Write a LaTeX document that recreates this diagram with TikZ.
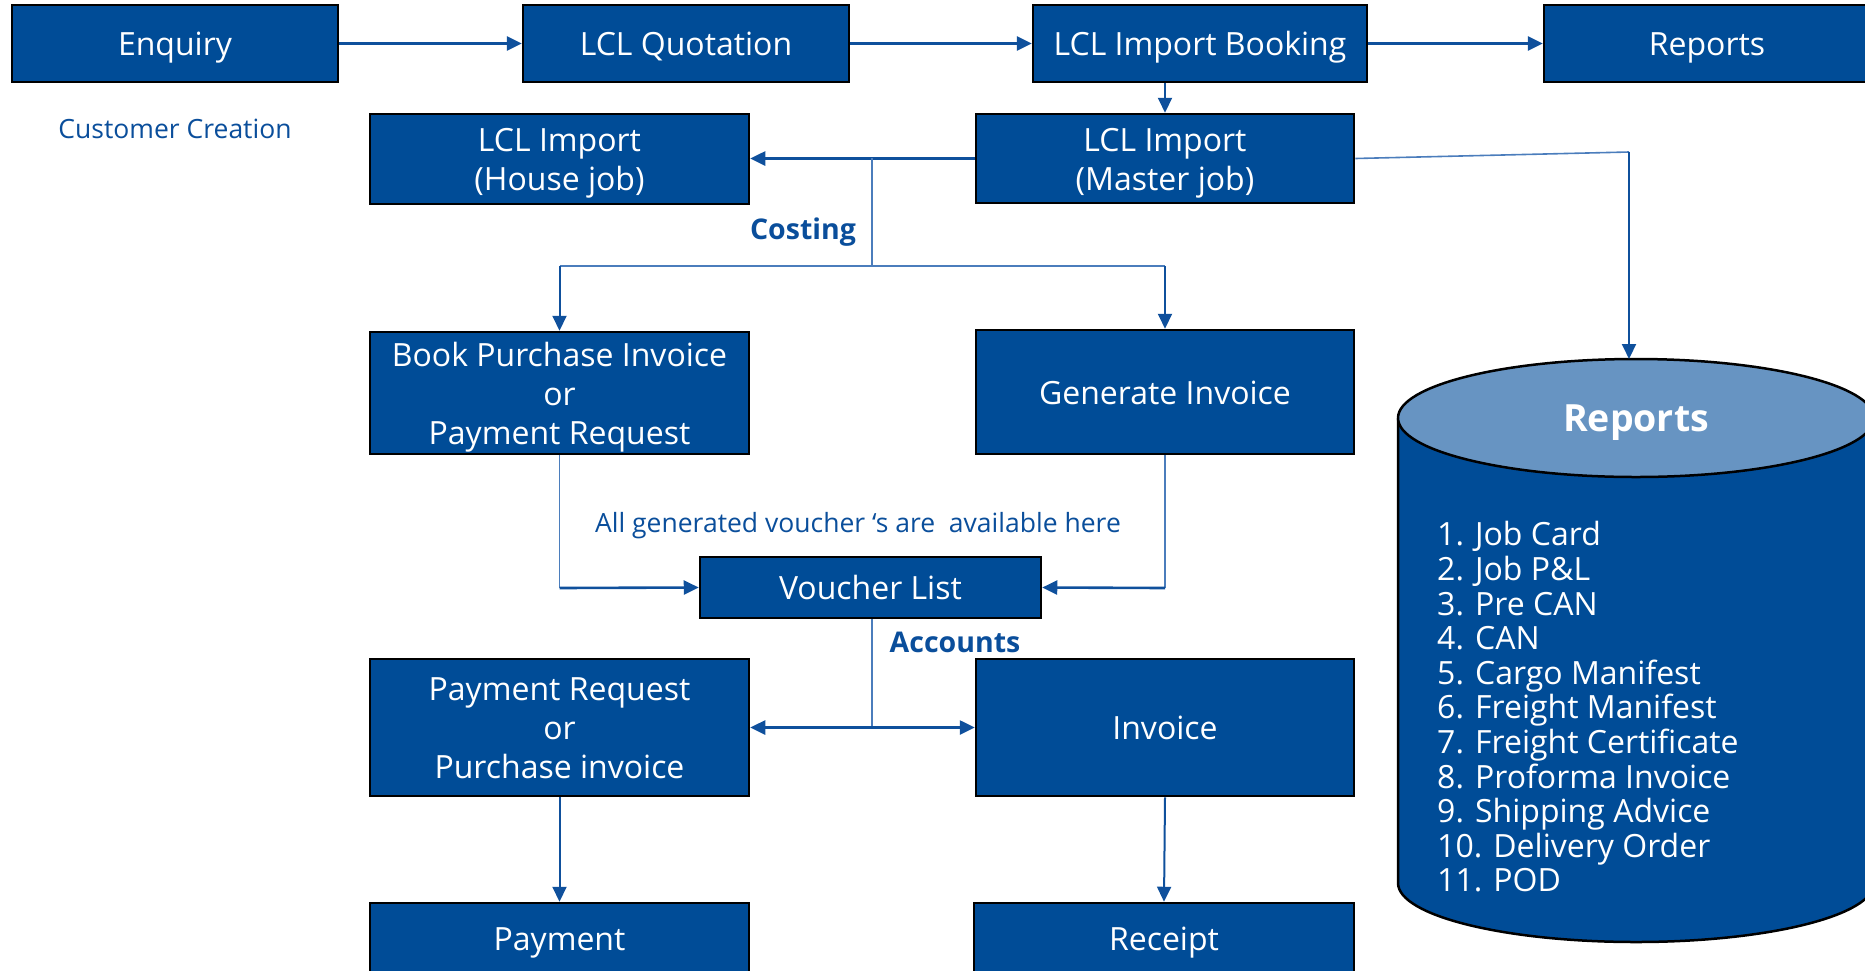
\documentclass[tikz,border=0pt]{standalone}
\usepackage{fontspec}
\setmainfont{Open Sans}
\usetikzlibrary{arrows.meta,calc}
\definecolor{boxblue}{RGB}{0,76,151}
\definecolor{toplight}{RGB}{103,148,194}
\definecolor{linec}{RGB}{15,80,156}
\definecolor{thinc}{RGB}{75,125,188}
\definecolor{txtblue}{RGB}{10,78,155}
\newcommand\sttop{\rule{0pt}{1.069em}}
\newcommand\stbot{\rule[-0.293em]{0pt}{0pt}}
\begin{document}
\begin{tikzpicture}[x=1pt,y=-1pt,
  pp/.style={execute at begin node={\sttop}, execute at end node={\stbot}},
  boxbase/.style={draw=black,line width=2.5pt,fill=boxblue,text=white,align=center,inner sep=0pt,font=\fontsize{32}{39}\selectfont},
  box/.style={boxbase,pp},
  boxm/.style={boxbase},
  conn/.style={draw=linec,line width=2.6pt,-{Triangle[length=15pt,width=14pt]}},
  connm/.style={draw=linec,line width=2pt,-{Triangle[length=15pt,width=14pt]}},
  thinl/.style={draw=thinc,line width=1.6pt},
  lbl/.style={text=txtblue,inner sep=0pt,font=\fontsize{26.5}{30}\selectfont,pp},
  blbl/.style={text=txtblue,inner sep=0pt,font=\bfseries\fontsize{28.5}{30}\selectfont,pp}]
\useasboundingbox (0,0) rectangle (1865,970);

% top row
\node[box,minimum width=326pt,minimum height=77pt] (enq) at (175,43.5) {Enquiry};
\node[box,minimum width=326pt,minimum height=77pt] (quot) at (686,43.5) {LCL Quotation};
\node[box,minimum width=334pt,minimum height=77pt] (book) at (1200,43.5) {LCL Import Booking};
\node[box,minimum width=326pt,minimum height=77pt] (rep) at (1707,43.5) {Reports};

\node[lbl] (cust) at (175,128) {Customer Creation};

% jobs
\node[boxm,minimum width=379pt,minimum height=90pt] (house) at (559.5,159) {\sttop LCL Import\\(House job)\stbot};
\node[boxm,minimum width=378pt,minimum height=89pt] (master) at (1165,158.5) {\sttop LCL Import\\(Master job)\stbot};

\node[blbl] (cost) at (803,228) {Costing};

\node[boxm,minimum width=379pt,minimum height=122pt] (bpi) at (559.5,393) {\sttop Book Purchase Invoice\\or\\Payment Request\stbot};
\node[box,minimum width=378pt,minimum height=124pt] (gen) at (1165,392) {Generate Invoice};

\node[lbl] (avail) at (858,522) {All generated voucher ‘s are\ \ available here};

\node[box,minimum width=341pt,minimum height=61pt] (vl) at (870.5,587.5) {Voucher List};

\node[blbl] (acc) at (955,641) {Accounts};

\node[boxm,minimum width=379pt,minimum height=137pt] (pr) at (559.5,727.5) {\sttop Payment Request\\or\\Purchase invoice\stbot};
\node[box,minimum width=378pt,minimum height=137pt] (inv) at (1165,727.5) {Invoice};

\node[box,minimum width=379pt,minimum height=70pt] (pay) at (559.5,938) {Payment};
\node[box,minimum width=380pt,minimum height=70pt] (rec) at (1164,938) {Receipt};

% cylinder
\fill[boxblue] (1398,418) -- (1398,883) .. controls (1398,915.6) and (1504.6,942) .. (1636,942) .. controls (1767.4,942) and (1874,915.6) .. (1874,883) -- (1874,418) -- cycle;
\draw[black,line width=2.5pt] (1398,418) -- (1398,883) .. controls (1398,915.6) and (1504.6,942) .. (1636,942) .. controls (1767.4,942) and (1874,915.6) .. (1874,883) -- (1874,418);
\draw[black,line width=2.5pt,fill=toplight] (1636,418) ellipse [x radius=238, y radius=59];
\node[text=white,inner sep=0pt,font=\bfseries\fontsize{37.5}{40}\selectfont,pp] (cyllabel) at (1636,417) {Reports};
\node[anchor=west,align=left,text=white,inner sep=0pt,font=\fontsize{32}{34.6}\selectfont] (list) at (1437,707)
 {1. Job Card\\2. Job P\&L\\3. Pre CAN\\4. CAN\\5. Cargo Manifest\\6. Freight Manifest\\7. Freight Certificate\\8. Proforma Invoice\\9. Shipping Advice\\10. Delivery Order\\11. POD};
\coordinate (cyltop) at (1629,359);

% connectors top row
\draw[conn] (enq.east) -- (quot.west);
\draw[conn] (quot.east) -- (book.west);
\draw[conn] (book.east) -- (rep.west);
\draw[connm] (master.north |- book.south) -- (master.north);
\draw[conn] (master.west) -- (house.east |- master.west);

% costing branch
\coordinate (cA) at (872,158);
\coordinate (cB) at (872,266);
\draw[thinl] (cA) -- (cB);
\draw[thinl] (bpi.north |- cB) -- (gen.north |- cB);
\draw[connm] (bpi.north |- cB) -- (bpi.north);
\draw[connm] (gen.north |- cB) -- (gen.north);

% master to reports
\coordinate (rA) at (1629,152);
\draw[thinl] (master.east) -- (rA);
\draw[connm] (rA) -- (cyltop);

% voucher list
\coordinate (vA) at (559.5,588);
\coordinate (vB) at (1165,588);
\draw[thinl] (bpi.south) -- (vA);
\draw[conn] (vA) -- (vl.west);
\draw[thinl] (gen.south) -- (vB);
\draw[conn] (vB) -- (vl.east);

\coordinate (vC) at (872,727.5);
\draw[thinl] (vC |- vl.south) -- (vC);
\draw[conn] (vC) -- (pr.east);
\draw[conn] (vC) -- (inv.west);

\draw[connm] (pr.south) -- (pay.north);
\draw[connm] (inv.south) -- (rec.north);
\end{tikzpicture}
\end{document}
